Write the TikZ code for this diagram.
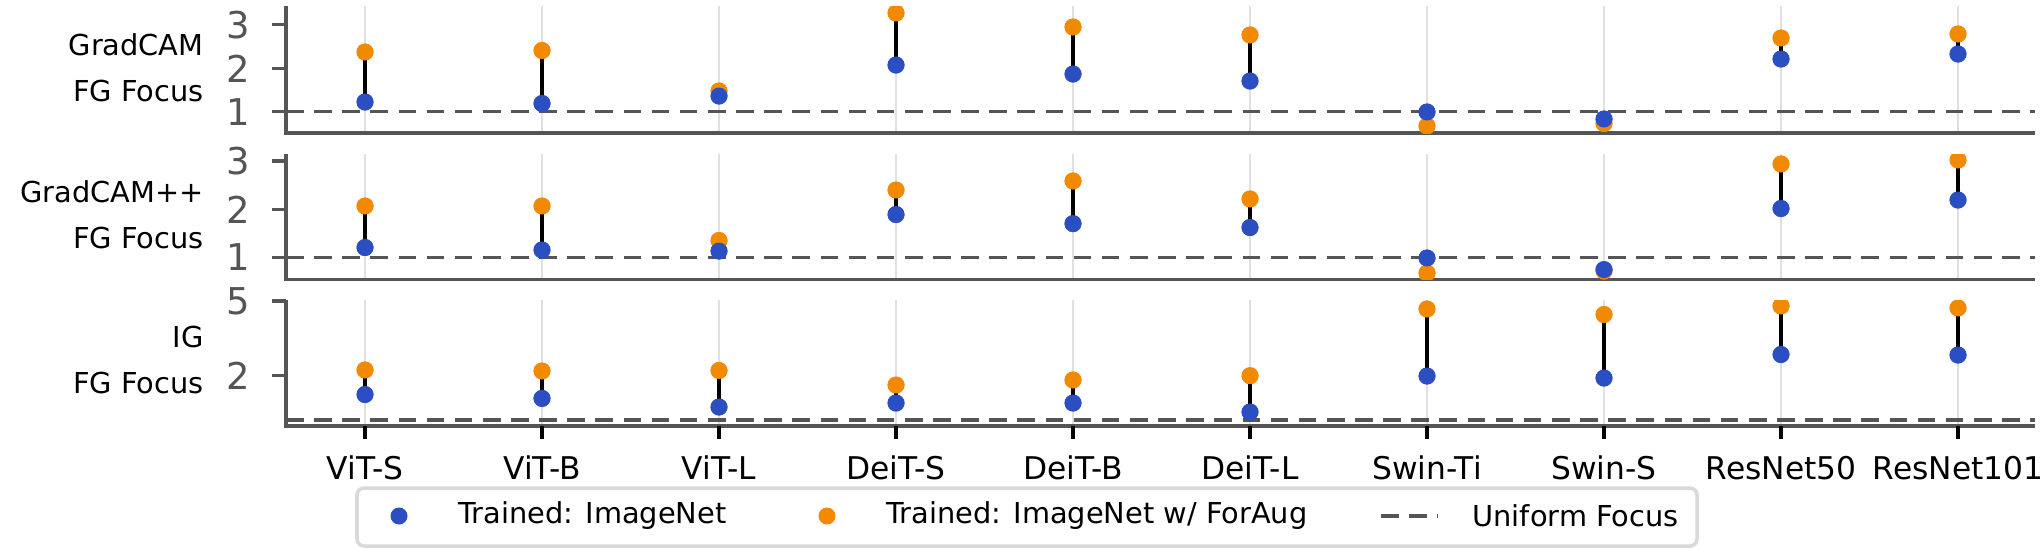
\documentclass[tikz,border=0pt]{standalone}
\usepackage{fontspec}
\setmainfont{DejaVu Sans}
\definecolor{cb}{HTML}{2B4FC2}
\definecolor{co}{HTML}{F28A00}
\definecolor{ax}{HTML}{555555}
\begin{document}
\begin{tikzpicture}[x=0.01cm,y=-0.01cm,
  spine/.style={draw=ax,line width=0.9pt},
  grd/.style={draw=black!12,line width=0.4pt},
  unif/.style={draw=ax,line width=0.9pt,dash pattern=on 5pt off 3pt},
  stem/.style={draw=black,line width=1pt},
  dotb/.style={circle,fill=cb,inner sep=0pt,minimum size=0.17cm},
  doto/.style={circle,fill=co,inner sep=0pt,minimum size=0.17cm},
  tl/.style={anchor=east,text=ax,font=\fontsize{10.5}{12}\selectfont},
  yl/.style={align=right,anchor=east,font=\fontsize{8.2}{13}\selectfont},
  xl/.style={font=\fontsize{8.9}{10}\selectfont},
  lg/.style={anchor=west,font=\fontsize{8.2}{10}\selectfont}]
\useasboundingbox (0,0) rectangle (2040,548);
% panels: top, bottom, unif y
\foreach \t/\b/\u [count=\p] in {6/133/111.6, 154/279.5/257.4, 300/426/420}{
  \foreach \i in {0,...,9}{\draw[grd] ({365+177*\i},\t) -- ({365+177*\i},\b);}
  \draw[unif] (286,\u) -- (2035,\u);
  \draw[spine] (286,\t) -- (286,\b) -- (2035,\b);
}
% y ticks
\foreach \y/\l in {24.6/3,68.5/2,111.6/1,161/3,209.6/2,257.4/1,301/5,375.6/2}{
  \draw[spine] (272,\y) -- (286,\y);
  \node[tl] at (262,\y) {\l};
}
\node[yl] (l1) at (216,68) {GradCAM\\FG Focus};
\node[yl] (l2) at (216,215) {GradCAM++\\FG Focus};
\node[yl] (l3) at (216,360) {IG\\FG Focus};
% data: index/orange/blue
\foreach \t/\b/\data in {6/133/{0/52/102,1/50.5/103.5,2/91/96,3/13/65,4/27/74,5/35/81,6/126/112,7/123.5/119,8/38/59,9/34/54},
  154/279.5/{0/206/247.5,1/206/250,2/240.5/251,3/190/214.5,4/181/223.6,5/199/227.5,6/273/258,7/271/269.6,8/164/208.5,9/160/200},
  300/426/{0/370/394.5,1/371/398.4,2/370.5/407,3/385/403,4/380/403,5/375.7/412,6/309/376,7/314.5/378,8/306/354.5,9/308/355}}{
  \begin{scope}
  \clip (286,\t) rectangle (2035,\b);
  \foreach \i/\o/\bl in \data{
    \node[doto] (o\i) at ({365+177*\i},\o) {};
    \node[dotb] (b\i) at ({365+177*\i},\bl) {};
    \draw[stem] (o\i.center) -- (b\i.center);
    \node[doto] at (o\i) {};
    \node[dotb] at (b\i) {};
  }
  \end{scope}
}
% x ticks and labels
\foreach \n [count=\k from 0] in {ViT-S,ViT-B,ViT-L,DeiT-S,DeiT-B,DeiT-L,Swin-Ti,Swin-S,ResNet50,ResNet101}{
  \draw[draw=black,line width=0.9pt] ({365+177*\k},426) -- ({365+177*\k},439);
  \node[xl] (x\k) at ({365+177*\k},468) {\n};
}
% legend
\draw[draw=black!15,line width=1pt,fill=white,rounded corners=2pt] (357,488) rectangle (1697,546);
\node[dotb] (lb) at (399,516) {};
\node[lg] (lbt) at (446,516) {Trained: ImageNet};
\node[doto] (lo) at (827,516) {};
\node[lg] (lot) at (874,516) {Trained: ImageNet w/ ForAug};
\coordinate (d1) at (1381,516);
\coordinate (d2) at (1438,516);
\draw[unif] (d1) -- (d2);
\node[lg] (ldt) at (1460,516) {Uniform Focus};
\end{tikzpicture}
\end{document}
